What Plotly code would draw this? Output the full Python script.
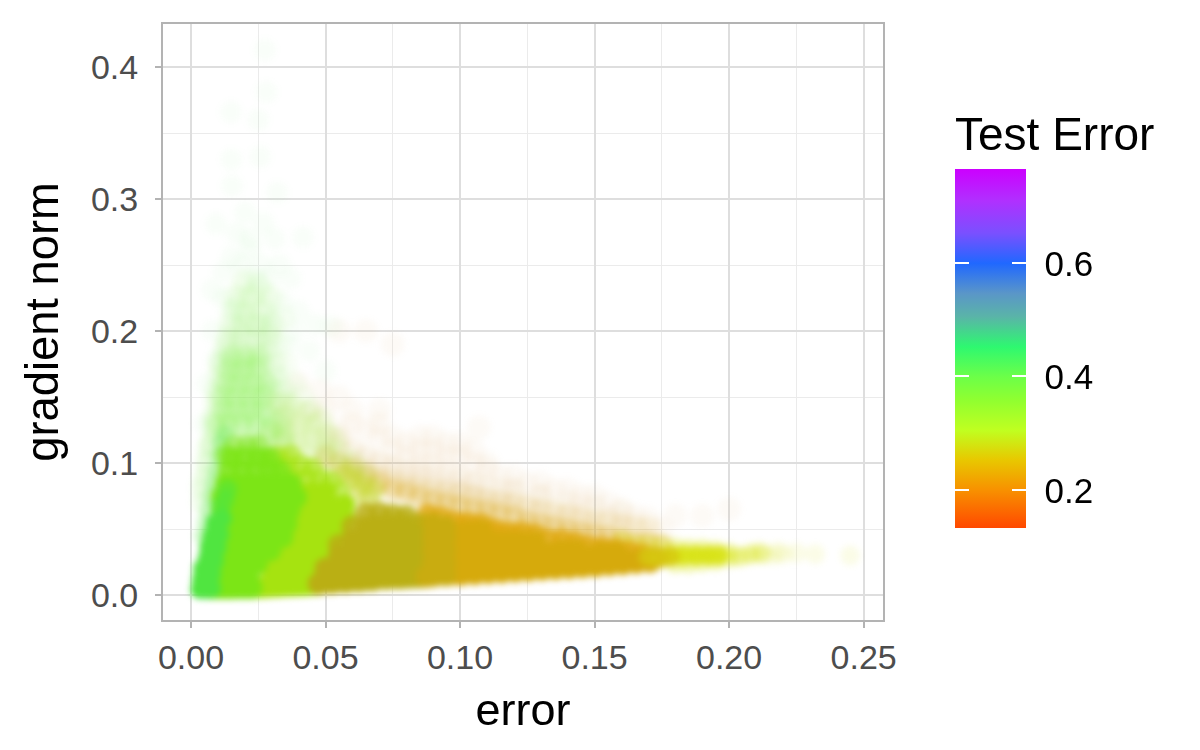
import plotly.graph_objects as go

W, H = 1200, 750
FONT = "Liberation Sans"

# Points, one list per visible colour zone: (error, gradient norm)
sparse_green = [(.0275,.413),(.028,.381),(.0149,.366),(.025,.36),(.0257,.332),(.015,.33),(.0152,.31),
    (.032,.305),(.0093,.281),(.027,.282),(.031,.27),(.017,.274),(.0416,.271),(.0152,.256),(.0078,.231),
    (.022,.262),(.026,.25),(.012,.245),(.019,.25),(.033,.25),(.037,.24),(.024,.24),(.029,.24),(.04,.215),
    (.034,.222),(.012,.225),(.046,.205),(.052,.204),(.038,.2),(.008,.2),(.01,.18),(.006,.16),(.005,.13),
    (.015,.215),(.03,.21),(.022,.27),(.02,.29),(.036,.19),(.044,.185),(.05,.17)]
halo_green_far = [(.008,.115),(.011,.12),(.012,.175),(.014,.19),(.017,.2),(.02,.212),(.024,.205),(.028,.198),
    (.032,.19),(.035,.175),(.038,.16),(.041,.15),(.045,.14),(.016,.225),(.02,.238),(.025,.232),(.03,.225),
    (.034,.21),(.018,.218),(.022,.225),(.027,.215),(.01,.15),(.008,.13),(.006,.1),(.005,.085),(.016,.215),
    (.021,.215),(.026,.215),(.018,.225),(.023,.225),(.028,.225),(.02,.235),(.025,.235)]
halo_green_near = [(.008,.115),(.013,.115),(.018,.115),(.023,.115),(.028,.115),(.033,.115),(.009,.125),(.014,.125),
    (.019,.125),(.024,.125),(.029,.125),(.034,.125),(.009,.135),(.014,.135),(.019,.135),(.024,.135),(.029,.135),
    (.034,.135),(.01,.145),(.015,.145),(.02,.145),(.025,.145),(.03,.145),(.035,.145),(.01,.155),(.015,.155),
    (.02,.155),(.025,.155),(.03,.155),(.034,.155),(.011,.165),(.016,.165),(.021,.165),(.026,.165),(.031,.165),
    (.011,.175),(.016,.175),(.021,.175),(.026,.175),(.031,.175),(.013,.185),(.018,.185),(.023,.185),(.028,.185),
    (.014,.195),(.019,.195),(.024,.195),(.029,.195),(.015,.205),(.02,.205),(.025,.205),(.03,.205),(.005,.07),(.005,.08),
    (.006,.09),(.007,.1),(.007,.11)]
halo_green_core = [(.01,.13),(.014,.13),(.019,.13),(.024,.13),(.029,.125),(.034,.118),(.012,.14),(.017,.14),(.022,.14),
    (.027,.14),(.032,.13),(.012,.15),(.017,.15),(.022,.15),(.027,.15),(.013,.16),(.018,.16),(.023,.16),(.028,.16),
    (.014,.17),(.019,.17),(.024,.172),(.015,.18),(.02,.18),(.025,.18)]
halo_lime = [(.03,.12),(.035,.115),(.04,.112),(.045,.108),(.05,.104),(.055,.098),(.06,.092),(.035,.125),(.04,.122),
    (.045,.118),(.05,.112),(.055,.108),(.06,.1),(.035,.135),(.04,.13),(.045,.128),(.05,.122),(.038,.142),(.043,.138),
    (.048,.132),(.053,.118),(.065,.09),(.033,.145)]
notch = [(.06,.088),(.064,.084),(.068,.08),(.057,.092),(.062,.078),(.066,.074)]
halo_orange = [(.05,.12),(.055,.115),(.06,.11),(.065,.105),(.07,.1),(.075,.095),(.08,.09),(.085,.09),
    (.09,.085),(.095,.08),(.1,.078),(.105,.075),(.11,.072),(.115,.07),(.12,.068),(.125,.066),(.13,.064),
    (.135,.06),(.14,.062),(.145,.056),(.15,.052),(.155,.06),(.16,.05),(.07,.12),(.075,.11),(.08,.105),
    (.085,.1),(.09,.1),(.06,.13),(.045,.14),(.05,.14),(.04,.16),(.055,.125),(.095,.095),(.1,.09),(.105,.085),
    (.12,.08),(.107,.127),(.12,.09),(.14,.08),(.13,.075),(.155,.07),(.18,.06),(.16,.065),(.19,.06),(.175,.05),
    (.2,.065),(.075,.19),(.065,.2),(.055,.2),(.085,.11),(.09,.11),(.095,.105),(.1,.105),(.105,.1),(.11,.095),
    (.115,.09),(.08,.115),(.075,.12),(.07,.13),(.065,.125),(.085,.12),(.09,.12),(.1,.115),(.105,.11),(.125,.085),
    (.13,.085),(.135,.08),(.145,.075),(.15,.075),(.145,.068),(.165,.06),(.17,.058),(.11,.1),(.095,.115),(.06,.14),
    (.07,.14),(.055,.15),(.048,.155)]
band_far = [(.055,.118),(.06,.109),(.065,.104),(.07,.1),(.075,.097),(.08,.094),(.085,.092),(.09,.09),(.095,.087),
    (.1,.086),(.105,.084),(.11,.082),(.115,.08),(.12,.078),(.13,.074),(.14,.07),(.15,.066),(.16,.062)]
band_near = [(.06,.097),(.065,.093),(.07,.089),(.075,.086),(.08,.083),(.085,.081),(.09,.079),(.095,.077),(.1,.076),
    (.105,.074),(.11,.072),(.115,.07),(.12,.069),(.125,.066),(.13,.064),(.135,.062),(.14,.06),(.145,.058),(.15,.056),
    (.155,.054),(.16,.053),(.165,.051),(.17,.05)]
edge_orange = [(.05,.105),(.055,.1),(.06,.095),(.065,.09),(.07,.085),(.075,.08),(.08,.078),(.085,.075),
    (.09,.072),(.095,.07),(.1,.068),(.105,.066),(.11,.064),(.115,.062),(.12,.06),(.125,.056),(.13,.054),
    (.135,.052),(.14,.05),(.145,.048),(.15,.046),(.155,.044),(.16,.042),(.165,.04),(.17,.04),(.175,.038)]
tail_faint = [(.198,.031),(.203,.03),(.207,.03),(.21,.033),(.212,.033),(.216,.03),(.218,.033),(.22,.031),(.225,.032),
    (.232,.031),(.245,.03)]
tail_soft = [(.16,.041),(.165,.038),(.17,.038),(.175,.037),(.18,.036),(.185,.035),(.19,.035),(.195,.034),(.2,.032),
    (.18,.024),(.185,.024),(.19,.025),(.195,.026),(.2,.028),(.204,.029),(.208,.031),(.212,.031)]
tail_yellow = [(.176,.029),(.18,.03),(.184,.03),(.188,.03),(.192,.03),(.196,.03)]
lime = [(.022,.0055),(.027,.006),(.032,.0065),(.037,.007),(.042,.0075),(.047,.008),(.03,.018),(.035,.018),
    (.04,.018),(.045,.018),(.033,.028),(.038,.028),(.043,.028),(.048,.028),(.037,.038),(.042,.038),(.047,.038),
    (.052,.038),(.04,.048),(.045,.048),(.05,.048),(.055,.048),(.042,.058),(.047,.058),(.052,.058),(.057,.058),
    (.042,.068),(.047,.068),(.052,.068),(.057,.068),(.04,.078),(.045,.078),(.05,.078),
    (.0245,.0058),(.0295,.0063),(.0345,.0068),(.0395,.0073),(.0445,.0078)]
lime_soft = [(.055,.078),(.038,.088),(.043,.088),(.048,.088),(.052,.086),(.036,.098),(.041,.098),(.045,.096),(.032,.105),(.037,.106)]
green = [(.0075,.0052),(.0125,.0052),(.0175,.0053),(.0225,.0055),(.01,.0052),(.015,.0052),(.02,.0054),
    (.009,.014),(.014,.014),(.019,.014),(.0215,.014),
    (.0095,.024),(.0145,.024),(.0195,.024),(.0245,.024),(.0095,.034),(.0145,.034),(.0195,.034),(.0245,.034),
    (.0295,.034),(.0105,.044),(.0155,.044),(.0205,.044),(.0255,.044),(.0305,.044),(.034,.044),(.0105,.054),
    (.0155,.054),(.0205,.054),(.0255,.054),(.0305,.054),(.0355,.054),(.0115,.064),(.0165,.064),(.0215,.064),
    (.0265,.064),(.0315,.064),(.0365,.064),(.0115,.074),(.0165,.074),(.0215,.074),(.0265,.074),(.0315,.074),
    (.0365,.074),(.039,.074),(.013,.084),(.018,.084),(.023,.084),(.028,.084),(.033,.084),(.037,.084)]
green_soft = [(.014,.094),(.019,.094),(.024,.094),(.029,.094),(.033,.094),(.015,.104),(.02,.104),(.025,.104),(.029,.104)]
green_fade = [(.016,.113),(.021,.113),(.025,.113),(.013,.106)]
bright = [(.0035,.0045),(.0055,.0045),(.004,.012),(.0075,.0052),(.0045,.02),(.0075,.016),(.0062,.028),(.0085,.026),
    (.0068,.036),(.0095,.036),(.0078,.044),(.0105,.046),(.009,.054),(.0115,.058)]
bright_mid = [(.0108,.066),(.0125,.072),(.0135,.08)]
bright_soft = [(.0045,.045),(.0055,.055),(.0065,.065),(.0075,.075),(.0085,.085),(.0095,.095),
    (.0105,.105),(.011,.115),(.0125,.122)]
olive = [(.0475,.0085),(.05,.0095),(.05,.02),(.0525,.0092),(.055,.0102),(.055,.021),(.055,.03),(.0575,.0098),
    (.06,.0108),(.06,.022),(.06,.032),(.06,.042),(.0625,.0105),(.065,.0112),(.065,.022),(.065,.032),(.065,.042),
    (.065,.052),(.0675,.0112),(.07,.0125),(.07,.0225),(.07,.0325),(.07,.0425),(.07,.0525),
    (.0725,.0123),(.075,.013),(.075,.023),(.075,.033),(.075,.043),(.075,.053),(.0775,.0128),(.08,.0131),
    (.08,.023),(.08,.033),(.08,.043),(.08,.053),(.0825,.0134),(.085,.0135),(.085,.0235),(.085,.0335),
    (.085,.0435)]
olive_top = [(.055,.038),(.06,.052),(.065,.062),(.07,.0625),(.075,.061),(.08,.06),(.085,.0535)]
olive_fade = [(.0875,.0139),(.09,.0145),(.09,.024),(.09,.034),(.09,.044),(.09,.054),(.0945,.015),(.0945,.024),
    (.0945,.034),(.0945,.044),(.0945,.052)]
ochre = [(.088,.014),(.088,.024),(.088,.034),(.088,.044),(.088,.054),(.093,.019),(.093,.029),(.093,.039),
    (.093,.049),(.098,.016),(.098,.026),(.098,.036),(.098,.046),(.103,.018),(.103,.028),
    (.103,.038),(.103,.048),(.108,.019),(.108,.029),(.108,.039),(.108,.049),(.113,.02),
    (.113,.03),(.113,.04),(.118,.02),(.118,.03),(.118,.04),(.123,.02),(.123,.03),(.123,.04),
    (.128,.022),(.128,.032),(.128,.04),(.133,.022),(.133,.032),(.138,.024),
    (.138,.034),(.143,.024),(.143,.034),(.148,.024),(.148,.03),(.153,.025),
    (.153,.032),(.158,.025),(.158,.032),(.163,.026),(.168,.027),
    (.173,.028),(.0905,.0146),(.0955,.0152),(.1005,.0154),(.1055,.016),(.1105,.0167),(.1155,.0173),
    (.1205,.018),(.1255,.0186),(.1305,.0193),(.1355,.0199),(.1405,.0206),(.1455,.0212),(.1505,.0219),(.1555,.0227),
    (.1605,.0236),(.1655,.0244),(.1705,.0253)]
ochre_top = [(.088,.061),(.093,.059),(.098,.056),(.103,.055),(.108,.054),(.113,.05),(.118,.048),(.123,.048),(.128,.046),
    (.133,.042),(.138,.042),(.143,.04),(.148,.037),(.153,.036),(.158,.035),(.163,.033),(.168,.031),(.1005,.052),(.1055,.05),
    (.1105,.048),(.1155,.045),(.1205,.044)]
ochre_fade = [(.17,.029),(.174,.028),(.178,.029)]

x_ticks = [0, .05, .10, .15, .20, .25]
x_labels = ["0.00", "0.05", "0.10", "0.15", "0.20", "0.25"]
y_ticks = [0, .1, .2, .3, .4]
y_labels = ["0.0", "0.1", "0.2", "0.3", "0.4"]
bar_ticks = [.2, .4, .6]
bar_labels = ["0.2", "0.4", "0.6"]
bar_min, bar_max = .134, .766
bar_stops = [(.134,"#FF4800"),(.2,"#F89000"),(.254,"#E8C800"),(.306,"#C0FF20"),(.359,"#90FF30"),(.4,"#6CFF48"),
    (.453,"#2EF870"),(.506,"#5AB4A8"),(.547,"#5A96C8"),(.6,"#2068FF"),(.653,"#7A50FF"),(.71,"#B030FF"),(.766,"#CC00FF")]

layers = [
    (sparse_green, "#70F060", .04, 22),
    (halo_orange, "#DFB060", .06, 24),
    (band_far, "#DFB060", .08, 26),
    (band_near, "#DDB040", .14, 26),
    (edge_orange, "#DDB030", .35, 22),
    (halo_green_far, "#80F050", .06, 26),
    (halo_green_near, "#88F058", .1, 26),
    (halo_green_core, "#80F048", .2, 24),
    (halo_lime, "#B5E860", .16, 26),
    (notch, "#C8D830", .45, 22),
    (tail_faint, "#D8E314", .1, 20),
    (tail_soft, "#D8E314", .3, 20),
    (tail_yellow, "#D8E314", .85, 20),
    (lime_soft, "#A6E310", .65, 22),
    (lime, "#A6E310", 1, 22),
    (bright_soft, "#60E850", .3, 18),
    (green_fade, "#7CE516", .5, 22),
    (green_soft, "#7CE516", .85, 22),
    (green, "#7CE516", 1, 22),
    (bright_mid, "#50E540", .55, 20),
    (bright, "#50E540", 1, 20),
    (ochre_top, "#E0A912", .85, 22),
    (ochre, "#D6AA0C", 1, 22),
    (ochre_fade, "#D6C810", .8, 20),
    (olive_top, "#BAAF14", .85, 22),
    (olive, "#BAAF14", 1, 22),
    (olive_fade, "#C9AC10", 1, 22),
]

fig = go.Figure()
for pts, col, op, size in layers:
    fig.add_trace(go.Scatter(x=[p[0] for p in pts], y=[p[1] for p in pts], mode="markers", showlegend=False,
                             hoverinfo="skip", marker=dict(color=col, opacity=op, size=size, line=dict(width=0))))

scale = [[(v - bar_min) / (bar_max - bar_min), c] for v, c in bar_stops]
BAR_TOP, BAR_BOTTOM, BAR_LEFT, BAR_WIDTH, TITLE_H, TICK = 168, 528, 955, 71, 56, 14
bar_frac = (BAR_BOTTOM - BAR_TOP) / H
fig.add_trace(go.Scatter(x=[None], y=[None], mode="markers", showlegend=False, hoverinfo="skip",
    marker=dict(color=[bar_min], cmin=bar_min, cmax=bar_max, colorscale=scale, showscale=True,
        colorbar=dict(
            title=dict(text="Test Error", side="top", font=dict(family=FONT, size=46, color="black")),
            x=BAR_LEFT / W, xanchor="left", xpad=0, thickness=BAR_WIDTH, thicknessmode="pixels",
            y=1 - BAR_BOTTOM / H, yanchor="bottom", ypad=0, len=(BAR_BOTTOM - BAR_TOP + TITLE_H) / H, lenmode="fraction",
            outlinewidth=0, borderwidth=0, tickmode="array", tickvals=bar_ticks, ticktext=bar_labels,
            ticks="outside", ticklen=12, tickwidth=1, tickcolor="white",
            tickfont=dict(family=FONT, size=35, color="black")))))

# Plotly's colour bar draws inside ticks on one edge only: two clear, narrow bars carry the white
# ticks of the reference on both inner edges of the gradient.
clear = [[0, "rgba(0,0,0,0)"], [1, "rgba(0,0,0,0)"]]
for left in (BAR_LEFT, BAR_LEFT + BAR_WIDTH - TICK):
    fig.add_trace(go.Scatter(x=[None], y=[None], mode="markers", showlegend=False, hoverinfo="skip",
        marker=dict(color=[bar_min], cmin=bar_min, cmax=bar_max, colorscale=clear, showscale=True,
            colorbar=dict(x=left / W, xanchor="left", xpad=0, thickness=TICK, thicknessmode="pixels",
                y=1 - BAR_BOTTOM / H, yanchor="bottom", ypad=0, len=bar_frac, lenmode="fraction",
                outlinewidth=0, borderwidth=0, tickmode="array", tickvals=bar_ticks, ticktext=["", "", ""],
                ticks="inside", ticklen=TICK, tickwidth=2, tickcolor="white", showticklabels=False))))

MAJOR, MINOR, BORDER, TEXT = "#DEDEDE", "#EBEBEB", "#B3B3B3", "#4D4D4D"
axis = dict(showline=True, mirror=True, linecolor=BORDER, linewidth=2, ticks="outside", ticklen=6, tickwidth=2,
            tickcolor=BORDER, gridcolor=MAJOR, gridwidth=2, zeroline=False, tickmode="array",
            tickfont=dict(family=FONT, size=34, color=TEXT), automargin=False)
fig.update_layout(
    width=W, height=H, margin=dict(l=0, r=0, t=0, b=0), paper_bgcolor="white", plot_bgcolor="white",
    font=dict(family=FONT), showlegend=False,
    xaxis=dict(axis, domain=[163 / W, 883 / W], range=[-.0104, .2572], tickvals=x_ticks, ticktext=x_labels,
               minor=dict(dtick=.025, tick0=0, showgrid=True, gridcolor=MINOR, gridwidth=1, ticks=""),
               title=dict(text="error", font=dict(family=FONT, size=45, color="black"), standoff=19)),
    yaxis=dict(axis, domain=[1 - 620 / H, 1 - 24 / H], range=[-.0189, .4326], tickvals=y_ticks, ticktext=y_labels,
               ticklabelstandoff=10,
               minor=dict(dtick=.05, tick0=0, showgrid=True, gridcolor=MINOR, gridwidth=1, ticks=""),
               title=dict(text="gradient norm", font=dict(family=FONT, size=45.3, color="black"), standoff=18)),
)
soften = ("document.body.style.margin='0';"
          "document.querySelectorAll('.scatterlayer').forEach(function(g){g.style.filter='blur(3px)';});")
fig.write_html("out.html", post_script=soften, config=dict(displayModeBar=False))
